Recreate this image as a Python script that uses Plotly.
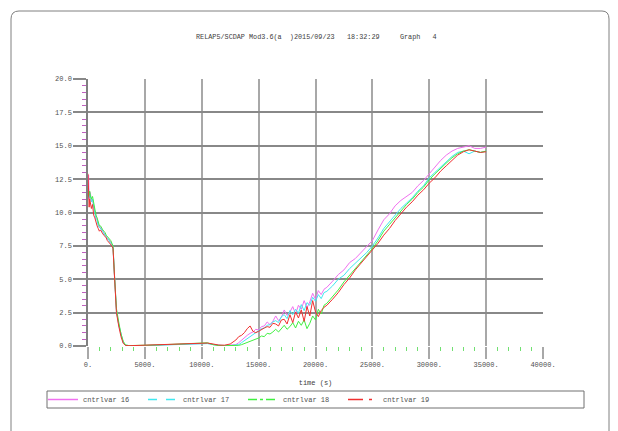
import plotly.graph_objects as go

# ---------------- data ----------------
time_s = [0, 50, 100, 150, 200, 300, 400, 500, 600, 700, 800, 900, 1000, 1100, 1200,
          1300, 1400, 1500, 1600, 1700, 1800, 1900, 2000, 2100, 2200, 2300, 2400, 2500,
          2700, 2900, 3100, 3300, 3600,
          4000, 5000, 6000, 7000, 8000, 9000, 10000, 10500, 11000, 11500, 12000, 12500,
          13000, 13250, 13500, 13750, 14000, 14250, 14500, 14750, 15000, 15250, 15500,
          15750, 16000, 16250, 16500, 16750, 17000, 17250, 17500, 17750, 18000, 18250,
          18500, 18750, 19000, 19250, 19500, 19750, 20000, 20250, 20500, 20750, 21000,
          21500, 22000, 22500, 23000, 23500, 24000, 24500, 25000, 25500, 26000, 26500,
          27000, 27500, 28000, 28500, 29000, 29500, 30000, 30500, 31000, 31500, 32000,
          32500, 33000, 33500, 34000, 34500, 35000]

cntrlvar_16 = [11.6, 12.8, 11.0, 11.3, 11.5, 10.9, 11.0, 10.4, 10.1, 9.6, 9.4, 9.1, 8.9, 8.9, 8.7,
               8.6, 8.5, 8.3, 8.2, 8.1, 8.0, 7.9, 7.8, 7.6, 7.4, 5.6, 3.9, 2.7,
               1.6, 0.8, 0.25, 0.05, 0.02,
               0.02, 0.04, 0.07, 0.10, 0.13, 0.16, 0.18, 0.20, 0.12, 0.05, 0.04, 0.06,
               0.10, 0.25, 0.45, 0.60, 0.80, 0.95, 1.05, 1.25, 1.20, 1.45, 1.50,
               1.80, 1.60, 1.85, 2.25, 1.90, 2.15, 2.70, 2.30, 2.55, 2.95, 2.40,
               3.05, 2.75, 3.40, 2.85, 3.30, 3.95, 3.50, 4.15, 3.85, 4.25, 4.40,
               4.85, 5.35, 5.70, 6.25, 6.55, 7.00, 7.45, 7.90, 8.70, 9.45, 9.90,
               10.5, 10.9, 11.2, 11.5, 12.0, 12.4, 12.9, 13.4, 13.9, 14.3, 14.6,
               14.8, 14.9, 15.0, 14.8, 14.8, 14.9]

cntrlvar_17 = [11.2, 11.8, 11.1, 11.4, 11.3, 10.8, 11.0, 10.3, 10.0, 9.5, 9.4, 9.0, 8.9, 8.8, 8.7,
               8.6, 8.4, 8.3, 8.2, 8.0, 8.0, 7.8, 7.7, 7.6, 7.4, 5.5, 3.8, 2.6,
               1.6, 0.8, 0.25, 0.05, 0.02,
               0.02, 0.03, 0.06, 0.09, 0.12, 0.15, 0.17, 0.18, 0.10, 0.04, 0.03, 0.03,
               0.04, 0.10, 0.25, 0.40, 0.55, 0.70, 0.85, 1.00, 1.15, 1.30, 1.35,
               1.55, 1.60, 1.80, 1.90, 1.75, 2.20, 2.35, 2.05, 2.65, 2.35, 2.75,
               2.45, 3.10, 2.65, 3.25, 3.05, 3.65, 3.35, 3.85, 3.55, 4.00, 4.10,
               4.50, 5.00, 5.30, 5.80, 6.20, 6.60, 7.00, 7.50, 8.10, 8.80, 9.30,
               9.80, 10.3, 10.7, 11.1, 11.6, 12.0, 12.6, 13.0, 13.4, 13.8, 14.2,
               14.5, 14.6, 14.4, 14.6, 14.5, 14.6]

cntrlvar_18 = [11.5, 11.2, 11.4, 11.6, 11.3, 11.0, 11.2, 10.6, 10.3, 9.8, 9.6, 9.3, 9.0, 9.0, 8.8,
               8.7, 8.6, 8.5, 8.3, 8.2, 8.1, 8.0, 7.9, 7.7, 7.5, 5.7, 4.0, 2.8,
               1.8, 0.9, 0.35, 0.08, 0.03,
               0.03, 0.05, 0.08, 0.11, 0.14, 0.18, 0.20, 0.24, 0.10, 0.03, 0.02, 0.02,
               0.02, 0.05, 0.10, 0.18, 0.25, 0.35, 0.45, 0.55, 0.60, 0.75, 0.70,
               0.95, 0.90, 1.05, 1.25, 1.05, 1.30, 1.55, 1.25, 1.45, 1.75, 1.35,
               1.85, 1.55, 1.95, 1.30, 1.70, 2.25, 1.95, 2.75, 2.40, 3.05, 3.20,
               3.70, 4.20, 4.80, 5.30, 5.80, 6.30, 6.80, 7.30, 7.90, 8.60, 9.10,
               9.60, 10.1, 10.6, 11.0, 11.5, 11.9, 12.45, 12.9, 13.3, 13.7, 14.1,
               14.4, 14.6, 14.7, 14.6, 14.5, 14.6]

cntrlvar_19 = [12.9, 10.6, 10.4, 11.0, 10.8, 10.3, 10.6, 9.8, 9.6, 9.2, 9.0, 8.8, 8.6, 8.7, 8.5,
               8.4, 8.3, 8.2, 8.1, 7.9, 7.8, 7.7, 7.6, 7.5, 7.3, 5.4, 3.7, 2.5,
               1.5, 0.7, 0.20, 0.04, 0.02,
               0.03, 0.06, 0.09, 0.12, 0.16, 0.19, 0.21, 0.22, 0.15, 0.07, 0.06, 0.15,
               0.45, 0.70, 0.80, 1.00, 1.30, 1.50, 1.10, 1.00, 1.10, 1.25, 1.35,
               1.45, 1.40, 1.70, 1.65, 1.50, 1.95, 2.00, 1.65, 2.35, 1.75, 2.55,
               2.10, 2.70, 1.85, 2.95, 2.25, 3.40, 2.55, 2.20, 2.65, 2.90, 3.05,
               3.50, 4.00, 4.60, 5.10, 5.70, 6.20, 6.70, 7.20, 7.70, 8.30, 8.80,
               9.40, 9.90, 10.4, 10.8, 11.3, 11.7, 12.2, 12.6, 13.1, 13.5, 13.9,
               14.3, 14.55, 14.7, 14.6, 14.5, 14.55]

series_names = ["cntrlvar 16", "cntrlvar 17", "cntrlvar 18", "cntrlvar 19"]
series_values = [cntrlvar_16, cntrlvar_17, cntrlvar_18, cntrlvar_19]

x_tick_vals = [0, 5000, 10000, 15000, 20000, 25000, 30000, 35000, 40000]
x_tick_text = ["0.", "5000.", "10000.", "15000.", "20000.", "25000.", "30000.", "35000.", "40000."]
y_tick_vals = [0, 2.5, 5, 7.5, 10, 12.5, 15, 17.5, 20]
y_tick_text = ["0.0", "2.5", "5.0", "7.5", "10.0", "12.5", "15.0", "17.5", "20.0"]

title_text = "RELAP5/SCDAP Mod3.6(a  )2015/09/23   18:32:29     Graph   4"

# ---------------- styling ----------------
OFF = 8                       # page body margin of the html page
W, H = 618 - OFF, 431 - OFF
L, R, T, B = 88, 543, 79, 346  # plot area in page pixels
colors = ["#f070f0", "#40e8f0", "#40f040", "#f03030"]
dashes = ["solid", "dash", "dashdot", "longdashdot"]
FONT = "Liberation Mono"


def px(xp):
    return (xp - L) / (R - L)


def py(yp):
    return (B - yp) / (B - T)


fig = go.Figure()
for name, vals, c in zip(series_names, series_values, colors):
    fig.add_trace(go.Scatter(x=time_s, y=vals, mode="lines", name=name,
                             line=dict(color=c, width=1), showlegend=False))
# legend samples with line styles
for name, c, d in zip(series_names, colors, dashes):
    fig.add_trace(go.Scatter(x=[None], y=[None], mode="lines", name=name,
                             line=dict(color=c, width=1.5, dash=d)))

frame = (f"M {px(11)},{py(431)} L {px(11)},{py(19)} Q {px(11)},{py(11)} {px(19)},{py(11)} "
         f"L {px(602)},{py(11)} Q {px(609)},{py(11)} {px(609)},{py(19)} L {px(609)},{py(431)}")

fig.update_layout(
    width=W, height=H, autosize=False,
    margin=dict(l=L - OFF, r=W - (R - OFF), t=T - OFF, b=H - (B - OFF), pad=0, autoexpand=False),
    paper_bgcolor="white", plot_bgcolor="white",
    font=dict(family=FONT, size=7, color="#505050"),
    shapes=[
        dict(type="path", xref="paper", yref="paper", path=frame,
             line=dict(color="#808080", width=1)),
        dict(type="rect", xref="paper", yref="paper",
             x0=px(47), x1=px(584), y0=py(391), y1=py(408),
             line=dict(color="#707070", width=1), fillcolor="rgba(0,0,0,0)"),
    ],
    annotations=[
        dict(text=title_text, xref="paper", yref="paper", x=px(316), y=py(37),
             xanchor="center", yanchor="middle", showarrow=False,
             font=dict(family=FONT, size=6.8, color="#404040")),
    ],
    legend=dict(orientation="h", x=px(43), y=py(399.5), xanchor="left", yanchor="middle",
                bgcolor="rgba(0,0,0,0)", borderwidth=0, entrywidth=55,
                entrywidthmode="pixels", itemwidth=30,
                font=dict(family=FONT, size=7, color="#505050")),
)

fig.update_xaxes(
    range=[0, 40000], tickvals=x_tick_vals, ticktext=x_tick_text,
    showgrid=True, gridcolor="#a8a8a8", gridwidth=1.5,
    ticks="outside", ticklen=12, tickcolor="#a8a8a8", tickwidth=1.5,
    showline=False, zeroline=False, automargin=False,
    minor=dict(dtick=1000, ticks="outside", ticklen=4, tickcolor="#70e070",
               tickwidth=1, showgrid=False),
    title=dict(text="time (s)", standoff=11, font=dict(family=FONT, size=7, color="#404040")),
)
fig.update_yaxes(
    range=[0, 20], tickvals=y_tick_vals, ticktext=y_tick_text,
    showgrid=True, gridcolor="#888888", gridwidth=1.5,
    ticks="outside", ticklen=13, tickcolor="#888888", tickwidth=1.5,
    showline=True, linecolor="#808080", linewidth=1.5,
    zeroline=False, automargin=False,
    minor=dict(dtick=0.5, ticks="outside", ticklen=4, tickcolor="#c060c0",
               tickwidth=1, showgrid=False),
)

fig.write_html("out.html")
